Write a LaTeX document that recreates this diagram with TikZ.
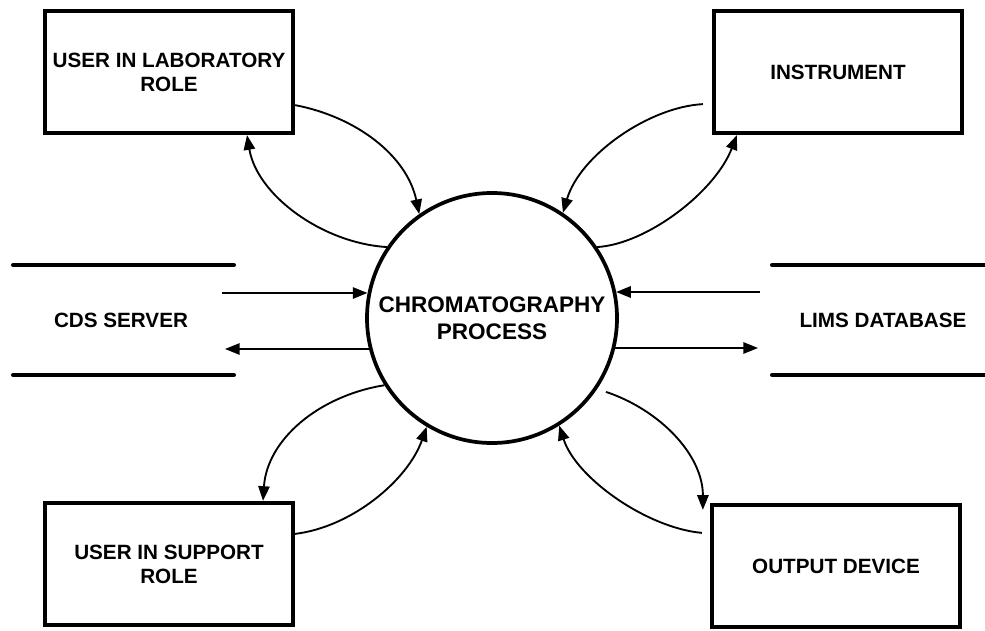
\documentclass[tikz,border=0pt]{standalone}
\usepackage{fontspec}
\setmainfont{Liberation Sans}
\usetikzlibrary{arrows.meta,calc}
\begin{document}
\begin{tikzpicture}[x=0.75pt,y=-0.75pt,
  entity/.style={draw,line width=3.2pt,minimum width=186pt,minimum height=91.5pt,
    inner sep=0pt,align=center,font=\fontsize{15.5}{18}\selectfont\bfseries},
  process/.style={draw,circle,line width=2.8pt,minimum size=187.5pt,inner sep=0pt,
    align=center,font=\fontsize{16.9}{20.25}\selectfont\bfseries},
  storelabel/.style={font=\fontsize{15.5}{18}\selectfont\bfseries},
  storeline/.style={line width=3pt,line cap=round},
  flow/.style={line width=1.4pt,-{Triangle[length=11pt,width=8.5pt]}},
]
\useasboundingbox (0,0) rectangle (985,631);

% external entities
\node[entity] (lab)    at (169,72)  {USER IN LABORATORY\\ROLE};
\node[entity] (inst)   at (838,72)  {INSTRUMENT};
\node[entity] (sup)    at (169,564) {USER IN SUPPORT\\ROLE};
\node[entity] (outdev) at (836,566) {OUTPUT DEVICE};

% the process
\node[process] (proc) at (492,318) {CHROMATOGRAPHY\\PROCESS};

% data stores
\node[storelabel] (cds)  at (121,320) {CDS SERVER};
\node[storelabel] (lims) at (883,320) {LIMS DATABASE};
\draw[storeline] (13,265) -- (234,265);
\draw[storeline] (13,375) -- (234,375);
\draw[storeline] (772,265) -- (990,265);
\draw[storeline] (772,375) -- (990,375);

% flows to and from the stores
\coordinate (cdsout)  at (222,293);
\coordinate (cdsin)   at (225,349);
\coordinate (limsout) at (760,292);
\coordinate (limsin)  at (758,348);
\draw[flow] (cdsout) -- (cdsout -| proc.169);
\draw[flow] (proc.194 |- cdsin) -- (cdsin);
\draw[flow] (limsout) -- (limsout -| proc.12);
\draw[flow] (proc.-14 |- limsin) -- (limsin);

% flows to and from the entities
\draw[flow] ($(lab.south east)+(0,-30)$) .. controls (357,117) and (407,156) .. (proc.125);
\draw[flow] (proc.146) .. controls (322,243) and (257,195) .. ($(lab.south)+(78,0)$);
\draw[flow] ($(inst.south west)+(-9,-31)$) .. controls (649,107) and (580,155) .. (proc.56);
\draw[flow] (proc.34) .. controls (647,244) and (715,192) .. ($(inst.south west)+(25,0)$);
\draw[flow] (proc.212) .. controls (318,396) and (267,440) .. ($(sup.north)+(94,0)$);
\draw[flow] ($(sup.north east)+(0,33)$) .. controls (352,527) and (408,480) .. (proc.239);
\draw[flow,shorten <=7pt] (proc.-34) .. controls (660,410) and (703,455) .. ($(outdev.north west)+(-7,7)$);
\draw[flow] ($(outdev.north west)+(-8,30)$) .. controls (647,528) and (576,478) .. (proc.-58);
\end{tikzpicture}
\end{document}
